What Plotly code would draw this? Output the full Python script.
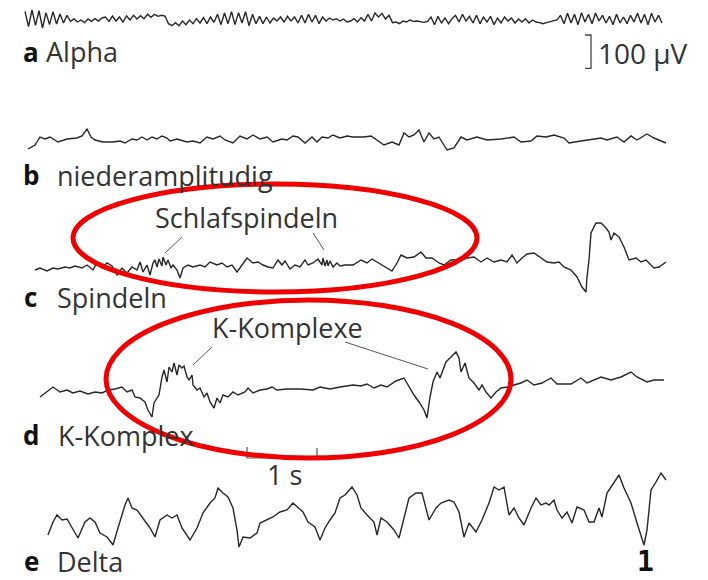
import numpy as np
import plotly.graph_objects as go

# ---------------- data ----------------
FS = 70
W, H = 708, 580
UV_PER_PX = 3.0    # 100 uV bar ~ 33 px

# a  Alpha : uniformly sampled trace
alpha_start = 25      # sample index of first point
alpha_step = 3.5      # samples between points
alpha_uv = [26, -20, 30, -16, 28, -24, 22, -14, 25, -12, 18, -9, 14,
            -4, 3, -6, 0, -8, 3, -4, 4, -3, 6,
            9, -4, 12, -3, 9, -6, 12, 0, 14, 3, 13, 4, 17, 8, 17, 11, 14, 12,
            -11, -17,
            -8, -17, -3, -14, 0, -11, 4, -9, 7, -11, 9, -7,
            17, -14, 21, -11, 25, -14, 22, -9, 25, -17, 17, -11,
            11, -11, 9, -9, 6, -3, 9, -6, 11, -3, 9, -9,
            14, -9, 17, -6, 14, -11, 9, -3, 6, 0, 4, -3, 3, -6,
            -3, 4, -6, 7, -3,
            17, -3, 21, 9, 20, 3, 14,
            -8, -6, -11, -3, -6, 0, -4, -3, -6, -7, -4,
            9, -14, 11, -9, 6, -11, 4,
            14, -6, 17, -3, 11, -9, 14, -11, 9, -6, 11, -14, 6, -9, 9, -3, 6, -9, 3, -6, 4, -9, 0,
            -6, -8, -11, -8, -6, -3, 0,
            14, -11, 20, -9, 17, -14, 22, -6, 17, -11, 21, -3, 14, -9, 11, -14, 17, -9, 9, -11,
            14, -6, 20, -9, 17, -14, 20, -6, 14, -9]

# b  niederamplitudig
b_samp = [28, 35, 40, 45, 50, 58, 67, 77, 82, 87, 91, 95, 103, 113, 120, 125, 132, 137, 142, 147,
          152, 157, 162, 167, 170, 177, 187, 193, 200, 207, 213, 220, 225, 233, 240, 247, 253, 260,
          267, 273, 282, 287, 293, 298, 305, 312, 317, 322, 328, 333, 340, 347, 353,
          364, 371, 377, 384, 392, 399, 404, 409, 414, 419, 424, 429, 434, 439, 442, 447, 454, 461,
          467, 477, 487, 501, 514, 521, 531, 537, 546, 554, 564, 569, 581, 594, 601, 607, 617, 624,
          631, 637, 647, 654, 666]
b_uv = [-30, -18, 6, 0, 6, -9, 0, 3, 9, 30, 6, -3, -9, -9, -6, -12, 0, -3, 6, -3,
        6, 0, 9, 3, -6, 0, -9, -6, -12, 6, 0, 9, -3, -12, 9, 0, 12, 0,
        6, -9, 0, -3, 9, 6, -12, 6, -9, 6, 3, 12, 3, 9, 6,
        6, 9, -3, -18, -9, -18, 18, 6, 12, 27, -9, 18, 0, 6, -9, -33, -27, 6,
        -3, 6, -3, 0, 6, -9, -6, 9, 6, 12, 3, -12, -6, 0, 3, -3, 6, -9,
        9, -3, 15, 3, -12]

# c  Spindeln
c_samp = [35, 40, 47, 53, 58, 65, 70, 75, 82, 87, 93, 97, 102, 107, 112, 117, 122, 127, 132, 137,
          140, 143, 147, 150, 153, 155, 157, 159, 162, 163, 166, 168, 171, 173, 177, 180, 183, 188,
          193, 200, 205, 210, 217, 222, 227, 232, 237, 242, 247, 253, 258, 263, 268, 273, 278, 282,
          285, 290, 295, 300, 305, 308, 313, 318, 322, 323, 325, 327, 328, 330, 333, 337, 340, 345,
          353,
          361, 367, 372, 379, 386, 392, 397, 401, 407, 414, 421, 426, 432, 439, 444, 451, 461, 467,
          474, 481, 487, 494, 501, 507, 512, 517, 522, 527, 534, 541, 547, 554, 559, 564, 571, 577,
          582, 586, 587, 589, 591, 596, 601, 606, 609, 611, 614, 619, 624, 629, 636, 641, 646, 654,
          659, 666]
c_uv = [-15, -9, -18, -9, -12, -6, -9, -3, -9, 0, -15, 6, -9, 6, -3, -30, -9, -24, -6, -15,
        9, -21, 0, -30, 6, 15, -6, 18, -3, 24, 0, 15, -9, 0, -15, -39, -9, 0,
        -6, 0, -6, 9, 0, 6, -6, 0, -21, 0, 21, 6, 9, 0, -6, -9, 15, 0,
        12, -12, 0, -6, 15, 0, 6, 18, 0, 21, -3, 15, -3, 12, -6, 6, -3, 0,
        0,
        15, 6, 18, 6, -6, -18, 6, 30, 21, 24, 39, 21, 21, 6, 0, 15, 15, 21,
        24, 9, 21, 9, 15, 9, 30, 6, 21, 33, 36, 21, 9, 6, 9, -6, -15, -36,
        -66, -81, -36, 15, 96, 126, 126, 111, 99, 75, 96, 84, 54, 15, 21, 9, 15, -9,
        -6, 9]

# d  K-Komplex
d_samp = [40, 47, 53, 60, 67, 73, 80, 88, 95, 102, 108, 115, 122, 127, 132, 135, 140, 145, 148, 152,
          154, 157, 159, 162, 164, 167, 169, 172, 174, 177, 179, 182, 184, 187, 189, 192, 193, 197,
          200, 204, 207, 210, 214, 217, 220, 223, 228, 233, 238, 245, 248, 253, 260, 267, 272, 277,
          287, 300, 313, 320, 330, 340, 353,
          361, 367, 374, 381, 387, 396, 404, 409, 414, 419, 424, 427, 430, 433, 437, 440, 442, 446,
          451, 456, 459, 461, 465, 469, 474, 479, 482, 486, 491, 496, 501, 507, 514, 521, 527, 534,
          542, 551, 557, 571, 581, 587, 601, 611, 621, 631, 637, 647, 654, 664]
d_uv = [-27, -12, 3, -12, -6, -15, -9, -18, -12, -15, -6, -3, 3, -12, -6, -27, -30, -42, -66, -87,
        -45, -30, -21, 33, 54, 18, 63, 48, 75, 39, 69, 60, 66, 33, 24, 39, 9, -6,
        0, -27, -15, -42, -60, -30, -45, -21, -27, -12, -21, -12, 0, -15, -6, -3, 3, -6,
        -3, -3, -6, 3, -3, 3, 9,
        6, 12, 0, 9, 3, 21, 30, 3, -21, -42, -66, -90, -27, 18, 48, 30, 48, 78,
        93, 108, 90, 48, 75, 30, 15, -6, 9, -12, -30, -12, 0, 3, 9, 15, 24, 9,
        15, 30, 12, 12, 30, 15, 33, 24, 33, 48, 33, 18, 24, 24]

# e  Delta
e_samp = [48, 53, 57, 62, 67, 72, 78, 85, 90, 95, 100, 107, 113, 118, 125, 128, 132, 137, 143, 150,
          155, 160, 167, 172, 177, 182, 190, 197, 203, 210, 215, 218, 223, 228, 233, 237, 239, 243,
          250, 257, 260, 267, 273, 280, 287, 293, 298, 303, 308, 315, 320, 325, 330, 335, 340, 345,
          352,
          357, 361, 367, 374, 377, 381, 387, 394, 399, 404, 409, 416, 422, 429, 436, 441, 449, 454,
          459, 464, 469, 476, 482, 489, 494, 499, 504, 509, 514, 519, 524, 531, 536, 541, 546, 549,
          554, 557, 562, 567, 572, 577, 584, 589, 594, 599, 602, 607, 614, 619, 624, 631, 637, 644,
          647, 651, 656, 661, 666]
e_uv = [-60, -21, 0, -15, -12, -39, -69, -21, -9, -21, -54, -66, -90, -39, 30, 51, 21, 15, -9, -39,
        -66, -15, 0, -9, 0, -39, -75, -39, 6, 36, 51, 81, 66, 54, 21, -45, -96, -66,
        -69, -54, -24, -15, -6, 9, 15, 36, 21, 9, -21, -36, -75, -39, -15, 6, 51, 60,
        84,
        60, 21, 0, -21, -60, -9, -21, -45, -69, -9, 51, 66, 66, -15, 21, 36, 45, 39,
        9, -66, -24, -51, -15, 36, 84, 75, 84, 0, 21, -9, -30, 21, 51, 30, 36, 30,
        45, 15, -9, 9, -24, 24, 15, -21, -21, 21, -6, 66, 99, 120, 81, 36, -24, -90,
        -45, 75, 99, 126, 105]

# channel labels
letters = ["a", "b", "c", "d", "e"]
names = ["Alpha", "niederamplitudig", "Spindeln", "K-Komplex", "Delta"]

# ---------------- layout helpers (pixel -> axis/paper) ----------------
def sx(px):          # pixel x -> seconds
    return px / FS

def uy(py):          # pixel y -> uV on the stacked axis
    return -py * UV_PER_PX

def px_(x):          # pixel -> paper
    return x / W

def py_(y):
    return 1 - y / H

# baselines of the five channels (pixel rows)
baselines = [20, 139, 265, 388, 515]

TRACE_COLOR = "#262626"
fig = go.Figure()

alpha_t = (alpha_start + alpha_step * np.arange(len(alpha_uv))) / FS
series = [
    (alpha_t, alpha_uv),
    (np.array(b_samp) / FS, b_uv),
    (np.array(c_samp) / FS, c_uv),
    (np.array(d_samp) / FS, d_uv),
    (np.array(e_samp) / FS, e_uv),
]
for (t, v), base in zip(series, baselines):
    fig.add_trace(go.Scatter(x=t, y=np.array(v, dtype=float) + uy(base), mode="lines",
                             line=dict(color=TRACE_COLOR, width=1.4), hoverinfo="skip"))

# 100 uV scale bar
bar_x = sx(591)
bar_top = uy(35)
fig.add_trace(go.Scatter(x=[bar_x - sx(6), bar_x, bar_x, bar_x - sx(6)],
                         y=[bar_top, bar_top, bar_top - 100, bar_top - 100],
                         mode="lines", line=dict(color="#444", width=1.3), hoverinfo="skip"))
# 1 s time bar
tb0 = sx(247)
tb_y = uy(458)
fig.add_trace(go.Scatter(x=[tb0, tb0, tb0 + 1, tb0 + 1],
                         y=[tb_y + 33, tb_y, tb_y, tb_y + 30],
                         mode="lines", line=dict(color="#555", width=1.2), hoverinfo="skip"))

FONT = "Open Sans"
TXT = "#333333"
annos = []

def add_text(text, x, y, size=27, color=TXT, anchor="left", family=FONT):
    annos.append(dict(text=text, x=px_(x), y=py_(y), xref="paper", yref="paper",
                      xanchor=anchor, yanchor="middle", showarrow=False,
                      font=dict(family=family, size=size, color=color)))

label_pos = [(21, 44, 52), (21, 55, 175), (22, 55, 297), (21, 56, 435), (22, 55, 561)]
for (lx, wx, y), let, nm in zip(label_pos, letters, names):
    add_text("<b>" + let + "</b>", lx, y, size=26, color="#111")
    add_text(nm, wx, y)

add_text("100 µV", 596, 53, size=28)
add_text("Schlafspindeln", 246, 218, anchor="center")
add_text("K-Komplexe", 210, 327)
add_text("1 s", 284, 474, anchor="center")
add_text("<b>1</b>", 645, 561, size=28, color="#111", anchor="center", family="DejaVu Sans Mono")

shapes = []
def line(x0, y0, x1, y1):
    shapes.append(dict(type="line", xref="paper", yref="paper", x0=px_(x0), y0=py_(y0),
                       x1=px_(x1), y1=py_(y1), line=dict(color="#555", width=1)))

line(182, 237, 165, 253)
line(313, 233, 324, 250)
line(212, 347, 193, 365)
line(345, 342, 428, 369)

def ellipse(x0, y0, x1, y1):
    shapes.append(dict(type="circle", xref="paper", yref="paper", x0=px_(x0), y0=py_(y1),
                       x1=px_(x1), y1=py_(y0), line=dict(color="#ee0000", width=5),
                       layer="above"))

ellipse(73, 184, 477, 292)
ellipse(106, 300, 511, 458)

fig.update_layout(
    width=W, height=H, autosize=False,
    margin=dict(l=0, r=0, t=0, b=0),
    paper_bgcolor="white", plot_bgcolor="white",
    showlegend=False,
    xaxis=dict(range=[0, W / FS], visible=False, fixedrange=True),
    yaxis=dict(range=[uy(H), 0], visible=False, fixedrange=True),
    annotations=annos, shapes=shapes,
)

fig.write_html("out.html", config={"displayModeBar": False},
               post_script="document.body.style.margin='0px';document.body.style.overflow='hidden';")
